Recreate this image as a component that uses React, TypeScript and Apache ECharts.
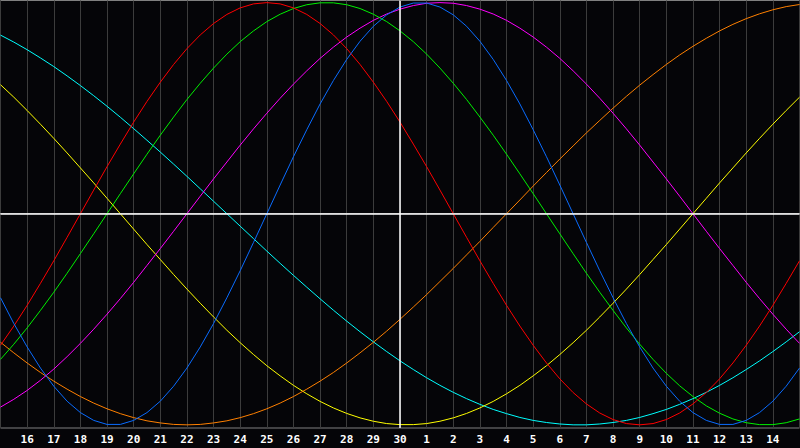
import React, { useEffect, useRef } from "react";
import * as echarts from "echarts";

// Day labels on the axis (x = 0 .. 30, one per day)
const dayLabels = [
  "15", "16", "17", "18", "19", "20", "21", "22", "23", "24", "25", "26", "27", "28", "29", "30",
  "1", "2", "3", "4", "5", "6", "7", "8", "9", "10", "11", "12", "13", "14", "15",
];

// Readings taken every half day (x = 0, 0.5, 1, ... 30), in percent
const physical = [-39.8, -52.0, -63.1, -73.1, -81.7, -88.8, -94.2, -97.9, -99.8, -99.8, -97.9, -94.2, -88.8, -81.7, -73.1, -63.1, -52.0, -39.8, -27.0, -13.6, 0, 13.6, 27.0, 39.8, 52.0, 63.1, 73.1, 81.7, 88.8, 94.2, 97.9, 99.8, 99.8, 97.9, 94.2, 88.8, 81.7, 73.1, 63.1, 52.0, 39.8, 27.0, 13.6, 0, -13.6, -27.0, -39.8, -52.0, -63.1, -73.1, -81.7, -88.8, -94.2, -97.9, -99.8, -99.8, -97.9, -94.2, -88.8, -81.7, -73.1];
const emotional = [-62.3, -53.2, -43.4, -33.0, -22.3, -11.2, 0, 11.2, 22.3, 33.0, 43.4, 53.2, 62.3, 70.7, 78.2, 84.7, 90.1, 94.4, 97.5, 99.4, 100, 99.4, 97.5, 94.4, 90.1, 84.7, 78.2, 70.7, 62.3, 53.2, 43.4, 33.0, 22.3, 11.2, 0, -11.2, -22.3, -33.0, -43.4, -53.2, -62.3, -70.7, -78.2, -84.7, -90.1, -94.4, -97.5, -99.4, -100, -99.4, -97.5, -94.4, -90.1, -84.7, -78.2, -70.7, -62.3, -53.2, -43.4, -33.0, -22.3];
const intellectual = [-69.0, -61.8, -54.1, -45.8, -37.2, -28.2, -18.9, -9.5, 0, 9.5, 18.9, 28.2, 37.2, 45.8, 54.1, 61.8, 69.0, 75.6, 81.5, 86.6, 91.0, 94.5, 97.2, 99.0, 99.9, 99.9, 99.0, 97.2, 94.5, 91.0, 86.6, 81.5, 75.6, 69.0, 61.8, 54.1, 45.8, 37.2, 28.2, 18.9, 9.5, 0, -9.5, -18.9, -28.2, -37.2, -45.8, -54.1, -61.8, -69.0, -75.6, -81.5, -86.6, -91.0, -94.5, -97.2, -99.0, -99.9, -99.9, -99.0, -97.2];
const intuitive = [-91.6, -87.9, -83.7, -78.9, -73.6, -67.7, -61.4, -54.7, -47.6, -40.2, -32.5, -24.5, -16.5, -8.3, 0, 8.3, 16.5, 24.5, 32.5, 40.2, 47.6, 54.7, 61.4, 67.7, 73.6, 78.9, 83.7, 87.9, 91.6, 94.6, 96.9, 98.6, 99.7, 100, 99.7, 98.6, 96.9, 94.6, 91.6, 87.9, 83.7, 78.9, 73.6, 67.7, 61.4, 54.7, 47.6, 40.2, 32.5, 24.5, 16.5, 8.3, 0, -8.3, -16.5, -24.5, -32.5, -40.2, -47.6, -54.7, -61.4];
const aesthetic = [61.1, 55.2, 48.9, 42.4, 35.7, 28.8, 21.7, 14.6, 7.3, 0, -7.3, -14.6, -21.7, -28.8, -35.7, -42.4, -48.9, -55.2, -61.1, -66.7, -72.0, -76.8, -81.3, -85.3, -88.9, -92.0, -94.6, -96.7, -98.3, -99.4, -99.9, -99.9, -99.4, -98.3, -96.7, -94.6, -92.0, -88.9, -85.3, -81.3, -76.8, -72.0, -66.7, -61.1, -55.2, -48.9, -42.4, -35.7, -28.8, -21.7, -14.6, -7.3, 0, 7.3, 14.6, 21.7, 28.8, 35.7, 42.4, 48.9, 55.2];
const awareness = [-60.9, -65.9, -70.7, -75.2, -79.3, -83.1, -86.6, -89.7, -92.4, -94.7, -96.6, -98.1, -99.1, -99.8, -100, -99.8, -99.1, -98.1, -96.6, -94.7, -92.4, -89.7, -86.6, -83.1, -79.3, -75.2, -70.7, -65.9, -60.9, -55.6, -50.0, -44.2, -38.3, -32.1, -25.9, -19.5, -13.1, -6.5, 0, 6.5, 13.1, 19.5, 25.9, 32.1, 38.3, 44.2, 50.0, 55.6, 60.9, 65.9, 70.7, 75.2, 79.3, 83.1, 86.6, 89.7, 92.4, 94.7, 96.6, 98.1, 99.1];
const spiritual = [84.6, 81.3, 77.7, 73.8, 69.7, 65.3, 60.7, 55.9, 50.9, 45.7, 40.3, 34.8, 29.2, 23.5, 17.7, 11.8, 5.9, 0, -5.9, -11.8, -17.7, -23.5, -29.2, -34.8, -40.3, -45.7, -50.9, -55.9, -60.7, -65.3, -69.7, -73.8, -77.7, -81.3, -84.6, -87.6, -90.3, -92.7, -94.7, -96.5, -97.9, -98.9, -99.6, -100.0, -100.0, -99.6, -98.9, -97.9, -96.5, -94.7, -92.7, -90.3, -87.6, -84.6, -81.3, -77.7, -73.8, -69.7, -65.3, -60.7, -55.9];

const todayIndex = 15;

const seriesDefs = [
  { name: "Spiritual", data: spiritual, color: "#00ffff" },
  { name: "Aesthetic", data: aesthetic, color: "#ffff00" },
  { name: "Awareness", data: awareness, color: "#ff8000" },
  { name: "Intuitive", data: intuitive, color: "#ff00ff" },
  { name: "Intellectual", data: intellectual, color: "#00f000" },
  { name: "Emotional", data: emotional, color: "#ff0000" },
  { name: "Physical", data: physical, color: "#0a6cff" },
];

export default function App() {
  const ref = useRef<HTMLDivElement>(null);

  useEffect(() => {
    if (!ref.current) return;
    const chart = echarts.init(ref.current, undefined, { renderer: "svg" });
    const series: any[] = seriesDefs.map((s) => ({
      name: s.name,
      type: "line",
      data: s.data.map((v, i) => [i / 2, v]),
      smooth: false,
      symbol: "none",
      lineStyle: { color: s.color, width: 1 },
      itemStyle: { color: s.color },
      silent: true,
    }));
    series.push({
      type: "line",
      data: [],
      silent: true,
      markLine: {
        silent: true,
        symbol: "none",
        label: { show: false },
        lineStyle: { color: "#ffffff", width: 1.5, type: "solid" },
        data: [{ xAxis: todayIndex }, { yAxis: 0 }],
      },
    });
    chart.setOption({
      animation: false,
      backgroundColor: "#050508",
      grid: {
        show: true,
        left: 0.5,
        top: 0.5,
        width: 799,
        height: 427.5,
        borderColor: "#808080",
        borderWidth: 1,
        backgroundColor: "transparent",
      },
      xAxis: {
        type: "value",
        min: 0,
        max: dayLabels.length - 1,
        interval: 1,
        axisLine: { show: true, lineStyle: { color: "#808080", width: 1 } },
        axisTick: { show: false },
        axisLabel: {
          showMinLabel: false,
          showMaxLabel: false,
          formatter: (v: number) => dayLabels[Math.round(v)] ?? "",
          color: "#ffffff",
          fontFamily: "DejaVu Sans Mono",
          fontWeight: "bold",
          fontSize: 11,
          margin: 6,
        },
        splitLine: { show: true, lineStyle: { color: "#3c3c3c", width: 1 } },
      },
      yAxis: {
        type: "value",
        min: -101.5,
        max: 101,
        show: false,
        splitLine: { show: false },
      },
      series,
    });
    return () => chart.dispose();
  }, []);

  return (
    <div
      ref={ref}
      style={{ position: "fixed", left: 0, top: 0, width: 800, height: 448, background: "#050508" }}
    />
  );
}
